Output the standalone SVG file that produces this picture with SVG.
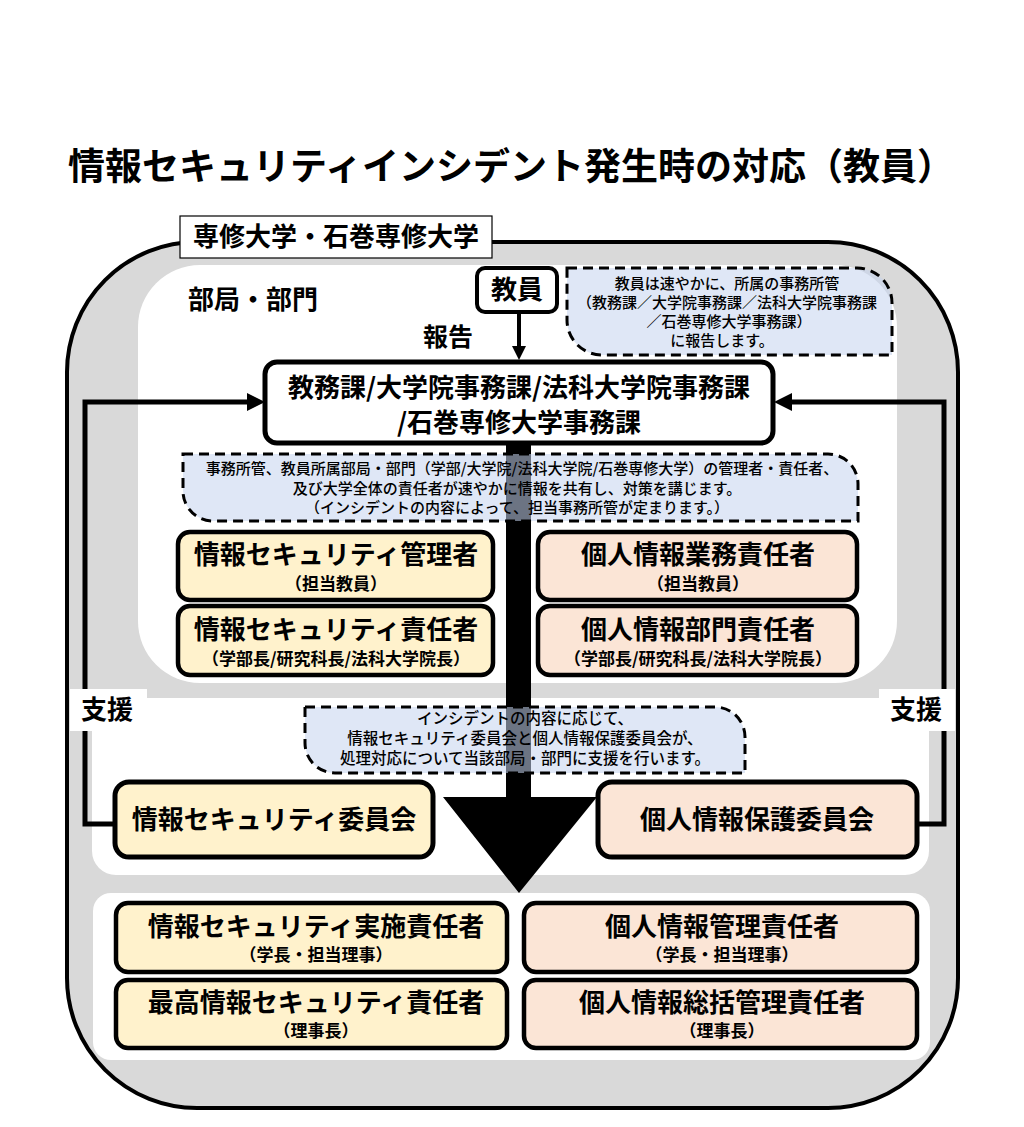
<svg xmlns="http://www.w3.org/2000/svg" width="1024" height="1127" viewBox="0 0 1024 1127">
<style>
.t{font-family:"Noto Sans CJK JP","Noto Sans",sans-serif;font-weight:700;fill:#000;text-anchor:middle}
.h{font-size:26px}
.sub{font-size:17px}
.c{font-family:"Noto Sans CJK JP","Noto Sans",sans-serif;font-weight:500;font-size:15px;fill:#000;text-anchor:middle}
.box{stroke:#000;stroke-width:4.5}
.y{fill:#fff2cc}
.p{fill:#fbe5d6}
.call{fill:#c5d3ee;fill-opacity:.55;stroke:#000;stroke-width:3;stroke-dasharray:10 6}
.ln{fill:none;stroke:#000;stroke-width:5}
</style>
<defs>
<marker id="ah" markerUnits="userSpaceOnUse" markerWidth="18" markerHeight="18" refX="0" refY="9" orient="auto"><path d="M0,0 L18,9 L0,18 Z" fill="#000"/></marker>
<marker id="ah2" markerUnits="userSpaceOnUse" markerWidth="14" markerHeight="14" refX="0" refY="7" orient="auto"><path d="M0,0 L14,7 L0,14 Z" fill="#000"/></marker>
</defs>
<rect width="1024" height="1127" fill="#fff"/>
<text class="t" x="511" y="180" style="font-size:37px">情報セキュリティインシデント発生時の対応（教員）</text>

<g id="regions">
<rect x="67" y="242" width="891" height="866" rx="130" fill="#d9d9d9" stroke="#000" stroke-width="4"/>
<rect x="138" y="265" width="759" height="418" rx="62" fill="#fff"/>
<rect x="92" y="698" width="837" height="177" rx="24" fill="#fff"/>
<rect x="93" y="893" width="837" height="167" rx="18" fill="#fff"/>
<text class="t h" x="188" y="309" style="text-anchor:start">部局・部門</text>
</g>

<g id="connectors">
<path class="ln" d="M116,824 H85 V402 H247" marker-end="url(#ah)"/>
<path class="ln" d="M918,824 H944 V402 H792" marker-end="url(#ah)"/>
<path fill="none" stroke="#000" stroke-width="4" d="M519,312 V346" marker-end="url(#ah2)"/>
<path d="M506,443 H531 V797 H597 L519,893 L443,797 H506 Z" fill="#000"/>
</g>

<g id="callout-teacher">
<path class="call" d="M567,268 H857 A35,35 0 0 1 892,303 V355 H602 A35,35 0 0 1 567,320 Z"/>
<text class="c" x="727" y="289">教員は速やかに、所属の事務所管</text>
<text class="c" x="727" y="308">（教務課／大学院事務課／法科大学院事務課</text>
<text class="c" x="729" y="327">／石巻専修大学事務課）</text>
<text class="c" x="722" y="346">に報告します。</text>
</g>
<g id="callout-share">
<path class="call" d="M183,454 H828 A30,30 0 0 1 858,484 V521 H213 A30,30 0 0 1 183,491 Z"/>
<text class="c" x="522" y="474">事務所管、教員所属部局・部門（学部/大学院/法科大学院/石巻専修大学）の管理者・責任者、</text>
<text class="c" x="517" y="494">及び大学全体の責任者が速やかに情報を共有し、対策を講じます。</text>
<text class="c" x="517" y="513">（インシデントの内容によって、担当事務所管が定まります。）</text>
</g>
<g id="callout-support">
<path class="call" d="M305,707 H715 A30,30 0 0 1 745,737 V773 H335 A30,30 0 0 1 305,743 Z"/>
<text class="c" x="525" y="724" style="font-size:15.5px">インシデントの内容に応じて、</text>
<text class="c" x="525" y="744" style="font-size:15.5px">情報セキュリティ委員会と個人情報保護委員会が、</text>
<text class="c" x="525" y="764" style="font-size:15.5px">処理対応について当該部局・部門に支援を行います。</text>
</g>

<g id="univ-label">
<rect x="180" y="216" width="312" height="42" fill="#fff" stroke="#000" stroke-width="1.2"/>
<text class="t h" x="336" y="246">専修大学・石巻専修大学</text>
</g>

<g id="teacher">
<rect x="477" y="268" width="80" height="44" rx="8" fill="#fff" stroke="#000" stroke-width="4"/>
<text class="t h" x="517" y="299">教員</text>
</g>
<g id="report-label"><text class="t" x="448" y="346" style="font-size:25px">報告</text></g>

<g id="office">
<rect x="265" y="362" width="508" height="81" rx="12" fill="#fff" stroke="#000" stroke-width="5"/>
<text class="t" x="519" y="397" style="font-size:26px">教務課/大学院事務課/法科大学院事務課</text>
<text class="t" x="519" y="432" style="font-size:26px">/石巻専修大学事務課</text>
</g>

<g id="is-manager">
<rect class="box y" x="178" y="532" width="315" height="68" rx="12"/>
<text class="t h" x="336" y="564">情報セキュリティ管理者</text>
<text class="t sub" x="336" y="590">（担当教員）</text>
</g>
<g id="is-officer">
<rect class="box y" x="178" y="606" width="315" height="69" rx="12"/>
<text class="t h" x="336" y="639">情報セキュリティ責任者</text>
<text class="t sub" x="336" y="665">（学部長/研究科長/法科大学院長）</text>
</g>
<g id="pi-business">
<rect class="box p" x="538" y="532" width="319" height="68" rx="12"/>
<text class="t h" x="698" y="564">個人情報業務責任者</text>
<text class="t sub" x="698" y="590">（担当教員）</text>
</g>
<g id="pi-dept">
<rect class="box p" x="538" y="606" width="319" height="69" rx="12"/>
<text class="t h" x="698" y="639">個人情報部門責任者</text>
<text class="t sub" x="698" y="665">（学部長/研究科長/法科大学院長）</text>
</g>

<g id="is-committee">
<rect class="box y" x="115" y="782" width="318" height="75" rx="14" style="stroke-width:5"/>
<text class="t h" x="274" y="829">情報セキュリティ委員会</text>
</g>
<g id="pi-committee">
<rect class="box p" x="598" y="782" width="319" height="75" rx="14" style="stroke-width:5"/>
<text class="t h" x="757" y="829">個人情報保護委員会</text>
</g>

<g id="support-left">
<rect x="70" y="689" width="77" height="42" fill="#fff"/>
<text class="t h" x="107" y="719">支援</text>
</g>
<g id="support-right">
<rect x="879" y="689" width="76" height="42" fill="#fff"/>
<text class="t h" x="916" y="719">支援</text>
</g>

<g id="is-exec">
<rect class="box y" x="116" y="903" width="391" height="69" rx="12"/>
<text class="t h" x="316" y="936">情報セキュリティ実施責任者</text>
<text class="t sub" x="316" y="961">（学長・担当理事）</text>
</g>
<g id="ciso">
<rect class="box y" x="116" y="980" width="391" height="68" rx="12"/>
<text class="t h" x="316" y="1012">最高情報セキュリティ責任者</text>
<text class="t sub" x="316" y="1037">（理事長）</text>
</g>
<g id="pi-admin">
<rect class="box p" x="524" y="903" width="393" height="69" rx="12"/>
<text class="t h" x="722" y="936">個人情報管理責任者</text>
<text class="t sub" x="722" y="961">（学長・担当理事）</text>
</g>
<g id="pi-chief">
<rect class="box p" x="524" y="980" width="393" height="68" rx="12"/>
<text class="t h" x="722" y="1012">個人情報総括管理責任者</text>
<text class="t sub" x="722" y="1037">（理事長）</text>
</g>
</svg>
